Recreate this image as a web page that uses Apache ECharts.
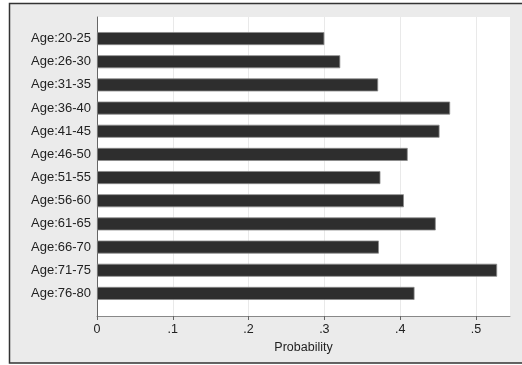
<!DOCTYPE html>
<html><head><meta charset="utf-8">
<script src="https://cdn.jsdelivr.net/npm/echarts@6/dist/echarts.min.js"></script>
<style>html,body{margin:0;padding:0;background:#fff;overflow:hidden;}#c{width:522px;height:365px;}</style>
</head><body><div id="c"></div>
<script>
const categories = ['Age:20-25','Age:26-30','Age:31-35','Age:36-40','Age:41-45','Age:46-50','Age:51-55','Age:56-60','Age:61-65','Age:66-70','Age:71-75','Age:76-80'];
const probability = [0.300, 0.321, 0.371, 0.466, 0.452, 0.410, 0.374, 0.405, 0.447, 0.372, 0.528, 0.419];
const xTicks = [0, 0.1, 0.2, 0.3, 0.4, 0.5];
const xMax = 0.545;

const fmt = v => v === 0 ? '0' : v.toFixed(1).replace(/^0/, '');
const chart = echarts.init(document.getElementById('c'), null, {renderer: 'canvas'});
chart.setOption({
  animation: false,
  textStyle: {fontFamily: 'Liberation Sans, Arial, sans-serif'},
  graphic: [{
    type: 'rect', z: -10, silent: true,
    shape: {x: 9.5, y: 3.5, width: 700, height: 359.5},
    style: {fill: '#ebebeb', stroke: '#333', lineWidth: 1.5}
  }],
  grid: [
    {left: 97, top: 17, right: 12, bottom: 49, show: true, backgroundColor: '#fff', borderWidth: 0},
    {left: 97, top: 27, right: 12, bottom: 60}
  ],
  xAxis: [
    {gridIndex: 0, type: 'value', min: 0, max: xMax, interval: 0.1,
     axisLine: {show: true, lineStyle: {color: '#888', width: 1}},
     axisTick: {show: true, length: 4, customValues: xTicks, lineStyle: {color: '#666'}},
     axisLabel: {customValues: xTicks, formatter: fmt, color: '#222', fontSize: 12.5, margin: 7},
     splitLine: {show: true, lineStyle: {color: '#e9e9e9', width: 1}},
     name: 'Probability', nameLocation: 'middle', nameGap: 20,
     nameTextStyle: {color: '#222', fontSize: 12.5}},
    {gridIndex: 1, type: 'value', min: 0, max: xMax, show: false}
  ],
  yAxis: [
    {gridIndex: 0, type: 'value', min: 0, max: 1,
     axisLine: {show: true, lineStyle: {color: '#666', width: 1}},
     axisTick: {show: false}, axisLabel: {show: false}, splitLine: {show: false}},
    {gridIndex: 1, type: 'category', data: categories, inverse: true,
     axisLine: {show: false}, axisTick: {show: false},
     axisLabel: {color: '#222', fontSize: 13, margin: 6}}
  ],
  series: [{
    type: 'bar', xAxisIndex: 1, yAxisIndex: 1, data: probability, barWidth: 13,
    itemStyle: {color: '#2e2e2e', borderColor: '#8a8a8a', borderWidth: 0.8}
  }]
});
</script></body></html>
